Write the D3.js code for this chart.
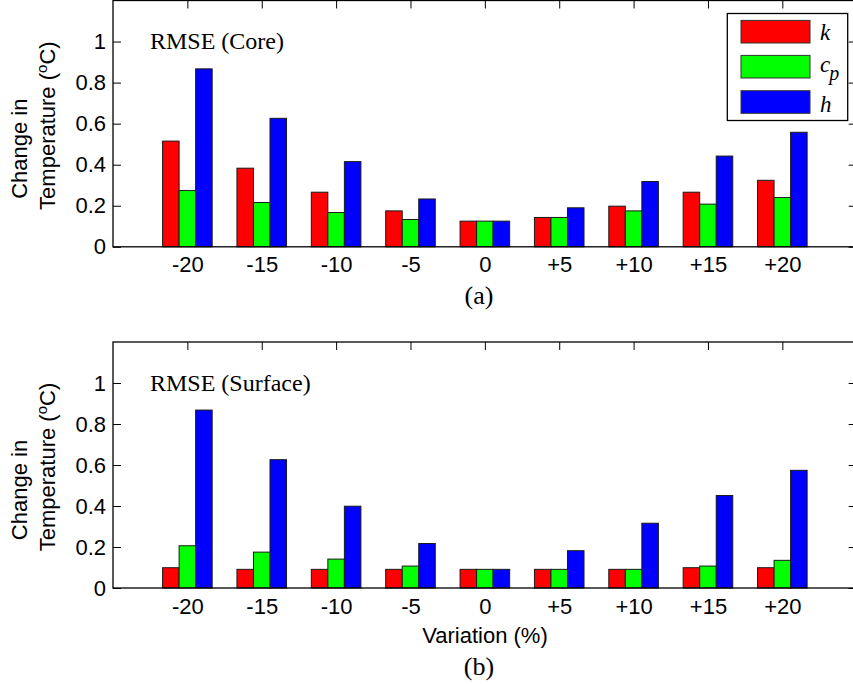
<!DOCTYPE html>
<html>
<head>
<meta charset="utf-8">
<script src="https://cdn.jsdelivr.net/npm/d3@7/dist/d3.min.js"></script>
<style>
  html, body { margin: 0; padding: 0; background: #fff; }
  svg { display: block; }
</style>
</head>
<body>
<svg id="chart" width="853" height="684"></svg>
<script>
// Variation levels on the x axis
const categories = ["-20", "-15", "-10", "-5", "0", "+5", "+10", "+15", "+20"];

// RMSE of the core temperature for each perturbed parameter
const coreK  = [0.515, 0.383, 0.266, 0.175, 0.125, 0.143, 0.198, 0.266, 0.324];
const coreCp = [0.274, 0.216, 0.167, 0.133, 0.125, 0.143, 0.175, 0.208, 0.240];
const coreH  = [0.867, 0.626, 0.415, 0.233, 0.125, 0.190, 0.318, 0.442, 0.558];

// RMSE of the surface temperature for each perturbed parameter
const surfK  = [0.099, 0.091, 0.091, 0.091, 0.091, 0.091, 0.091, 0.099, 0.099];
const surfCp = [0.206, 0.175, 0.141, 0.107, 0.091, 0.091, 0.091, 0.107, 0.135];
const surfH  = [0.868, 0.626, 0.399, 0.217, 0.091, 0.182, 0.316, 0.451, 0.574];

const yTicks = [0, 0.2, 0.4, 0.6, 0.8, 1];
const seriesColors = ["#ff0000", "#00ff00", "#0000ff"];

const svg = d3.select("#chart");
const SANS = "'Liberation Sans', Arial, Helvetica, sans-serif";
const SERIF = "'Liberation Serif', 'Times New Roman', serif";

const x = d3.scaleLinear().domain([0, 10]).range([113, 856.7]);
const barW = 2 / 9; // width of a single bar in category units

const panels = [
  { top: 0.5, bottom: 246.8, series: [coreK, coreCp, coreH], title: "RMSE (Core)",
    titleY: 49.3, tag: "(a)", tagY: 303.5, legend: true, xlabel: false },
  { top: 342, bottom: 588, series: [surfK, surfCp, surfH], title: "RMSE (Surface)",
    titleY: 390.7, tag: "(b)", tagY: 675, legend: false, xlabel: true }
];

panels.forEach(p => {
  const y = d3.scaleLinear().domain([0, 1.2]).range([p.bottom, p.top]);
  const g = svg.append("g");

  // tick marks on all four sides, pointing inwards
  const styleAxis = sel => {
    sel.select(".domain").remove();
    sel.selectAll(".tick line").attr("stroke", "#000").attr("stroke-width", 1);
    sel.selectAll(".tick text").attr("fill", "#000")
      .style("font-family", SANS).style("font-size", "22px");
  };

  g.append("g").attr("transform", `translate(${x.range()[0]},0)`)
    .call(d3.axisLeft(y).tickValues(yTicks).tickSizeInner(-8).tickSizeOuter(0)
      .tickPadding(7).tickFormat(d3.format("~g")))
    .call(styleAxis);

  g.append("g").attr("transform", `translate(${x.range()[1]},0)`)
    .call(d3.axisRight(y).tickValues(yTicks).tickSizeInner(-8).tickSizeOuter(0).tickFormat(""))
    .call(styleAxis);

  g.append("g").attr("transform", `translate(0,${p.bottom})`)
    .call(d3.axisBottom(x).tickValues(d3.range(1, categories.length + 1))
      .tickSizeInner(-8).tickSizeOuter(0).tickPadding(10)
      .tickFormat(i => categories[i - 1]))
    .call(styleAxis);

  g.append("g").attr("transform", `translate(0,${p.top})`)
    .call(d3.axisTop(x).tickValues(d3.range(1, categories.length + 1))
      .tickSizeInner(-8).tickSizeOuter(0).tickFormat(""))
    .call(styleAxis);

  // grouped bars
  p.series.forEach((vals, s) => {
    g.append("g").selectAll("rect").data(vals).join("rect")
      .attr("x", (v, i) => x(i + 1 + (s - 1) * barW - barW / 2))
      .attr("width", x(barW) - x(0))
      .attr("y", v => y(v))
      .attr("height", v => y(0) - y(v))
      .attr("fill", seriesColors[s])
      .attr("stroke", "#1a1a1a")
      .attr("stroke-width", 1);
  });

  // axes box
  g.append("rect")
    .attr("x", x.range()[0]).attr("y", p.top)
    .attr("width", x.range()[1] - x.range()[0]).attr("height", p.bottom - p.top)
    .attr("fill", "none").attr("stroke", "#000").attr("stroke-width", 1.3);

  // annotation inside the axes
  g.append("text").attr("x", 150).attr("y", p.titleY)
    .style("font-family", SERIF).style("font-size", "24px").attr("fill", "#000")
    .text(p.title);

  // y label (two lines)
  const mid = (p.top + p.bottom) / 2;
  const yl1 = g.append("text")
    .attr("transform", `translate(26.5,${mid + 25}) rotate(-90)`)
    .attr("text-anchor", "middle")
    .style("font-family", SANS).style("font-size", "22px").attr("fill", "#000")
    .text("Change in");
  const yl2 = g.append("text")
    .attr("transform", `translate(55,${mid + 2}) rotate(-90)`)
    .attr("text-anchor", "middle")
    .style("font-family", SANS).style("font-size", "22px").attr("fill", "#000");
  yl2.append("tspan").text("Temperature (");
  yl2.append("tspan").attr("dy", -8).style("font-size", "15px").text("o");
  yl2.append("tspan").attr("dy", 8).text("C)");

  if (p.xlabel) {
    g.append("text").attr("x", 485).attr("y", 643).attr("text-anchor", "middle")
      .style("font-family", SANS).style("font-size", "22px").attr("fill", "#000")
      .text("Variation (%)");
  }

  // subfigure tag
  g.append("text").attr("x", 479).attr("y", p.tagY).attr("text-anchor", "middle")
    .style("font-family", SERIF).style("font-size", "26px").attr("fill", "#000")
    .text(p.tag);

  if (p.legend) {
    const lg = g.append("g");
    lg.append("rect").attr("x", 727.3).attr("y", 13.5).attr("width", 120.4).attr("height", 107)
      .attr("fill", "#fff").attr("stroke", "#000").attr("stroke-width", 1.3);
    const rowY = [31.7, 66.7, 102];
    seriesColors.forEach((c, s) => {
      lg.append("rect").attr("x", 741).attr("y", rowY[s] - 11.3).attr("width", 69).attr("height", 22.6)
        .attr("fill", c).attr("stroke", "#333").attr("stroke-width", 1);
    });
    const lab = (yy) => lg.append("text").attr("x", 820).attr("y", yy)
      .style("font-family", SERIF).style("font-style", "italic").style("font-size", "23px")
      .attr("fill", "#000");
    lab(40).text("k");
    const cp = lab(71.5);
    cp.append("tspan").text("c");
    cp.append("tspan").attr("dy", 8).attr("dx", -1).style("font-size", "20px").text("p");
    lab(111.5).text("h");
  }
});
</script>
</body>
</html>
